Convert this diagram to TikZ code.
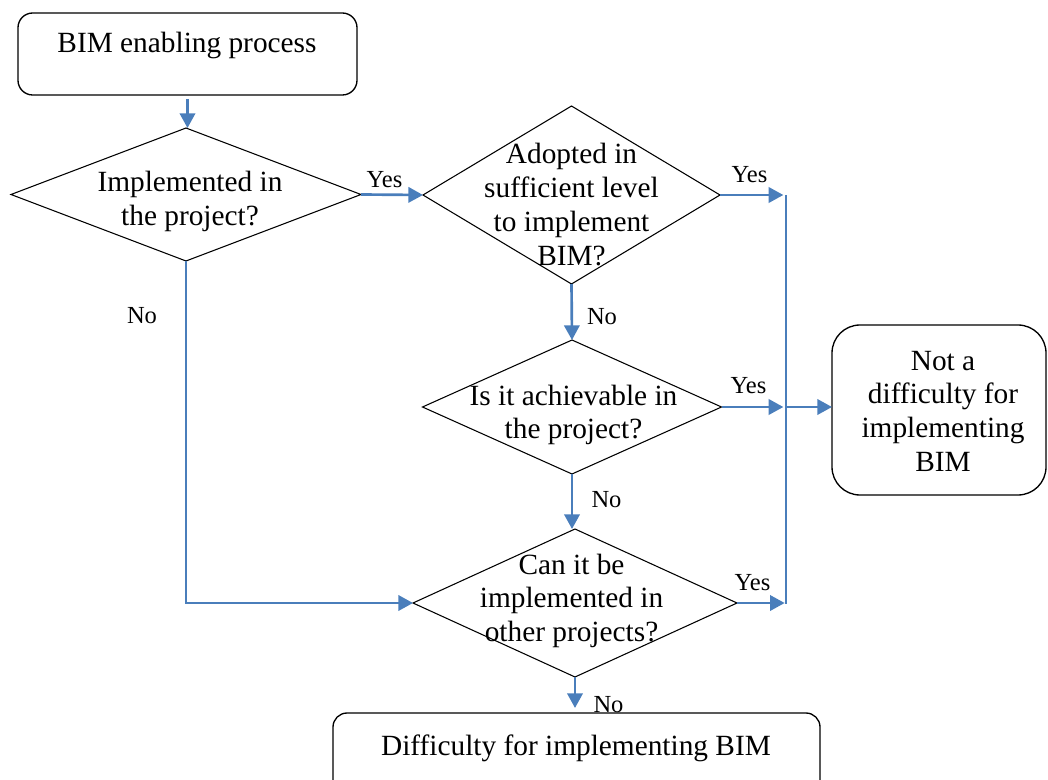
\documentclass[tikz,border=0pt]{standalone}
\usepackage{fontspec}
\setmainfont{Liberation Serif}
\usetikzlibrary{shapes.geometric,arrows.meta}
\definecolor{flowblue}{HTML}{4A7EBB}
% centred lines whose baseline is that of the first line
\newcommand\linestack[1]{\vtop{\halign{\hfil##\hfil\cr#1\crcr}}}
\begin{document}
\begin{tikzpicture}[x=0.75pt,y=-0.75pt,
  box/.style={draw=black,line width=1pt,rectangle,rounded corners=#1,inner sep=0pt,outer sep=0pt},
  decision/.style={draw=black,line width=0.8pt,diamond,inner sep=0pt,outer sep=0pt},
  txt/.style={anchor=base,inner sep=0pt,outer sep=0pt,font=\fontsize{22}{25.3}\selectfont},
  lbl/.style={anchor=base,inner sep=0pt,outer sep=0pt,font=\fontsize{18.4}{22}\selectfont},
  link/.style={draw=flowblue,line width=2pt},
  flow/.style={link,-{Triangle[length=11pt,width=11.5pt]}}]
\useasboundingbox (0,0) rectangle (1048,780);
\clip (0,0) rectangle (1048,780);

% boxes
\node[box=11pt,minimum width=254.25pt,minimum height=61.5pt] (start) at (187.5,54) {};
\node[txt] (startText) at (187,53) {BIM enabling process};

\node[box=21pt,minimum width=160.5pt,minimum height=127.5pt] (notBox) at (939,410) {};
\node[txt] (notText) at (943,370) {\linestack{Not a\cr difficulty for\cr implementing\cr BIM}};

\node[box=10.5pt,minimum width=365.25pt,minimum height=61.5pt] (diffBox) at (576.5,754) {};
\node[txt] (diffText) at (576,755) {Difficulty for implementing BIM};

% decisions
\node[decision,minimum width=262.5pt,minimum height=99.75pt] (d1) at (186,194.5) {};
\node[txt] (d1Text) at (190,192) {\linestack{Implemented in\cr the project?}};

\node[decision,minimum width=222.75pt,minimum height=133.5pt] (d2) at (571.5,195) {};
\node[txt] (d2Text) at (571.5,164) {\linestack{Adopted in\cr sufficient level\cr to implement\cr BIM?}};

\node[decision,minimum width=224.25pt,minimum height=100.5pt] (d3) at (572,407) {};
\node[txt] (d3Text) at (573.5,405) {\linestack{Is it achievable in\cr the project?}};

\node[decision,minimum width=243pt,minimum height=111pt] (d4) at (575,603) {};
\node[txt] (d4Text) at (571.5,574) {\linestack{Can it be\cr implemented in\cr other projects?}};

% collecting rail on the right
\coordinate (railTop) at (786,195);
\coordinate (railBot) at (786,604);
\draw[link] (railTop) -- (railBot);

% connectors
\draw[flow] ([yshift=-3pt]start.south) -- (start.south |- d1.north);
\draw[flow] (d1.east) -- (d2.west);
\draw[flow,shorten >=2pt] (d2.east) -- (d2.east -| railTop);
\draw[flow] (d2.south) -- (d3.north);
\draw[flow,shorten >=2pt] (d3.east) -- (d3.east -| railTop);
\draw[flow] (d3.east -| railTop) -- (d3.east -| notBox.west);
\draw[flow] (d3.south) -- (d3.south |- d4.north);
\draw[flow,shorten >=1pt] (d4.east) -- (d4.east -| railTop);
\draw[flow] (d1.south) |- (d4.west);
\draw[flow,shorten >=3.75pt] (d4.south) -- (d4.south |- diffBox.north);

% branch labels
\node[lbl] (yes1) at (384.5,188) {Yes};
\node[lbl] (yes2) at (749.5,183) {Yes};
\node[lbl] (yes3) at (748.5,393) {Yes};
\node[lbl] (yes4) at (752.5,590) {Yes};
\node[lbl] (no1) at (142,324) {No};
\node[lbl] (no2) at (602,325) {No};
\node[lbl] (no3) at (606.5,507) {No};
\node[lbl] (no4) at (608.5,712) {No};
\end{tikzpicture}
\end{document}
